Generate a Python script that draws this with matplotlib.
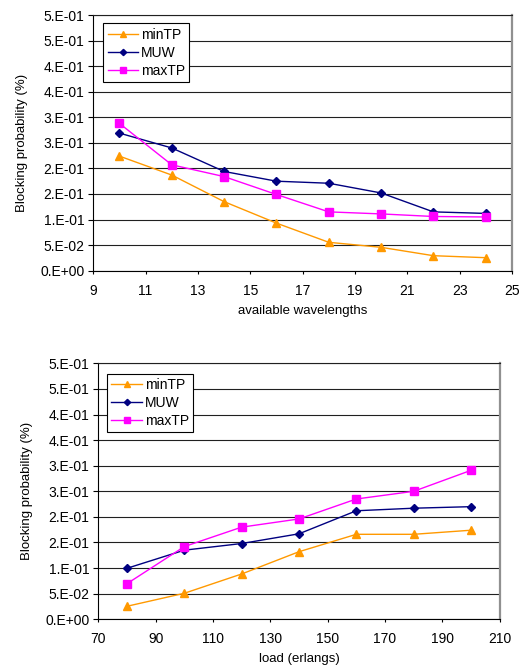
import matplotlib
matplotlib.use("Agg")
import matplotlib.pyplot as plt

plt.rcParams['font.family'] = ['Liberation Sans', 'DejaVu Sans']

# y ticks as Excel shows them (one significant digit)
y_ticks = [0.0, 0.05, 0.1, 0.15, 0.2, 0.25, 0.3, 0.35, 0.4, 0.45, 0.5]
y_tick_labels = ['0.E+00', '5.E-02', '1.E-01', '2.E-01', '2.E-01', '3.E-01',
                 '3.E-01', '4.E-01', '4.E-01', '5.E-01', '5.E-01']

# top chart: blocking vs available wavelengths
wavelengths = [10, 12, 14, 16, 18, 20, 22, 24]
w_minTP = [0.224, 0.187, 0.135, 0.093, 0.0555, 0.0457, 0.0293, 0.0254]
w_MUW = [0.269, 0.240, 0.194, 0.175, 0.171, 0.152, 0.115, 0.112]
w_maxTP = [0.288, 0.207, 0.184, 0.149, 0.115, 0.111, 0.106, 0.105]
w_xticks = [9, 11, 13, 15, 17, 19, 21, 23, 25]

# bottom chart: blocking vs load
load = [80, 100, 120, 140, 160, 180, 200]
l_minTP = [0.0254, 0.0508, 0.0885, 0.132, 0.166, 0.166, 0.174]
l_MUW = [0.0996, 0.135, 0.148, 0.167, 0.212, 0.217, 0.220]
l_maxTP = [0.0695, 0.142, 0.180, 0.196, 0.235, 0.250, 0.291]
l_xticks = [70, 90, 110, 130, 150, 170, 190, 210]

fig = plt.figure(figsize=(5.2, 6.7), dpi=100)
ax1 = fig.add_axes([0.1794, 0.596, 0.805, 0.3816])
ax2 = fig.add_axes([0.189, 0.0757, 0.772, 0.382])


def draw(ax, x, a, b, c, xticks, xlabel, legend_pos):
    ax.plot(x, a, color='#FF9900', marker='^', markersize=6, lw=1, label='minTP')
    ax.plot(x, b, color='#000080', marker='D', markersize=4, lw=1, label='MUW')
    ax.plot(x, c, color='#FF00FF', marker='s', markersize=5.5, lw=1, label='maxTP')
    ax.set_xlim(xticks[0], xticks[-1])
    ax.set_ylim(0, 0.5)
    ax.set_xticks(xticks)
    ax.set_yticks(y_ticks)
    ax.set_yticklabels(y_tick_labels)
    ax.grid(axis='y', color='#202020', lw=0.8)
    ax.set_axisbelow(True)
    ax.tick_params(axis='x', direction='out', length=2.5, width=0.8, pad=7,
                   labelsize=10, color='black')
    ax.tick_params(axis='y', direction='out', length=3.5, width=0.8, pad=3,
                   labelsize=10, color='black')
    ax.spines['left'].set_color('black')
    ax.spines['bottom'].set_color('black')
    ax.spines['right'].set_color('#909090')
    ax.spines['right'].set_linewidth(1.6)
    ax.spines['top'].set_color('#202020')
    ax.set_xlabel(xlabel, fontsize=9.5, labelpad=5)
    ax.set_ylabel('Blocking probability (%)', fontsize=9.5, labelpad=9)
    leg = ax.legend(loc='upper left', bbox_to_anchor=legend_pos, fontsize=10,
                    frameon=True, fancybox=False, edgecolor='black',
                    framealpha=1, handlelength=2.2, borderpad=0.3,
                    labelspacing=0.3, handletextpad=0.2, borderaxespad=0,
                    markerscale=0.8)
    leg.get_frame().set_linewidth(0.8)


draw(ax1, wavelengths, w_minTP, w_MUW, w_maxTP, w_xticks,
     'available wavelengths', (0.024, 0.967))
draw(ax2, load, l_minTP, l_MUW, l_maxTP, l_xticks,
     'load (erlangs)', (0.022, 0.96))

fig.savefig('out.png', dpi=100)
